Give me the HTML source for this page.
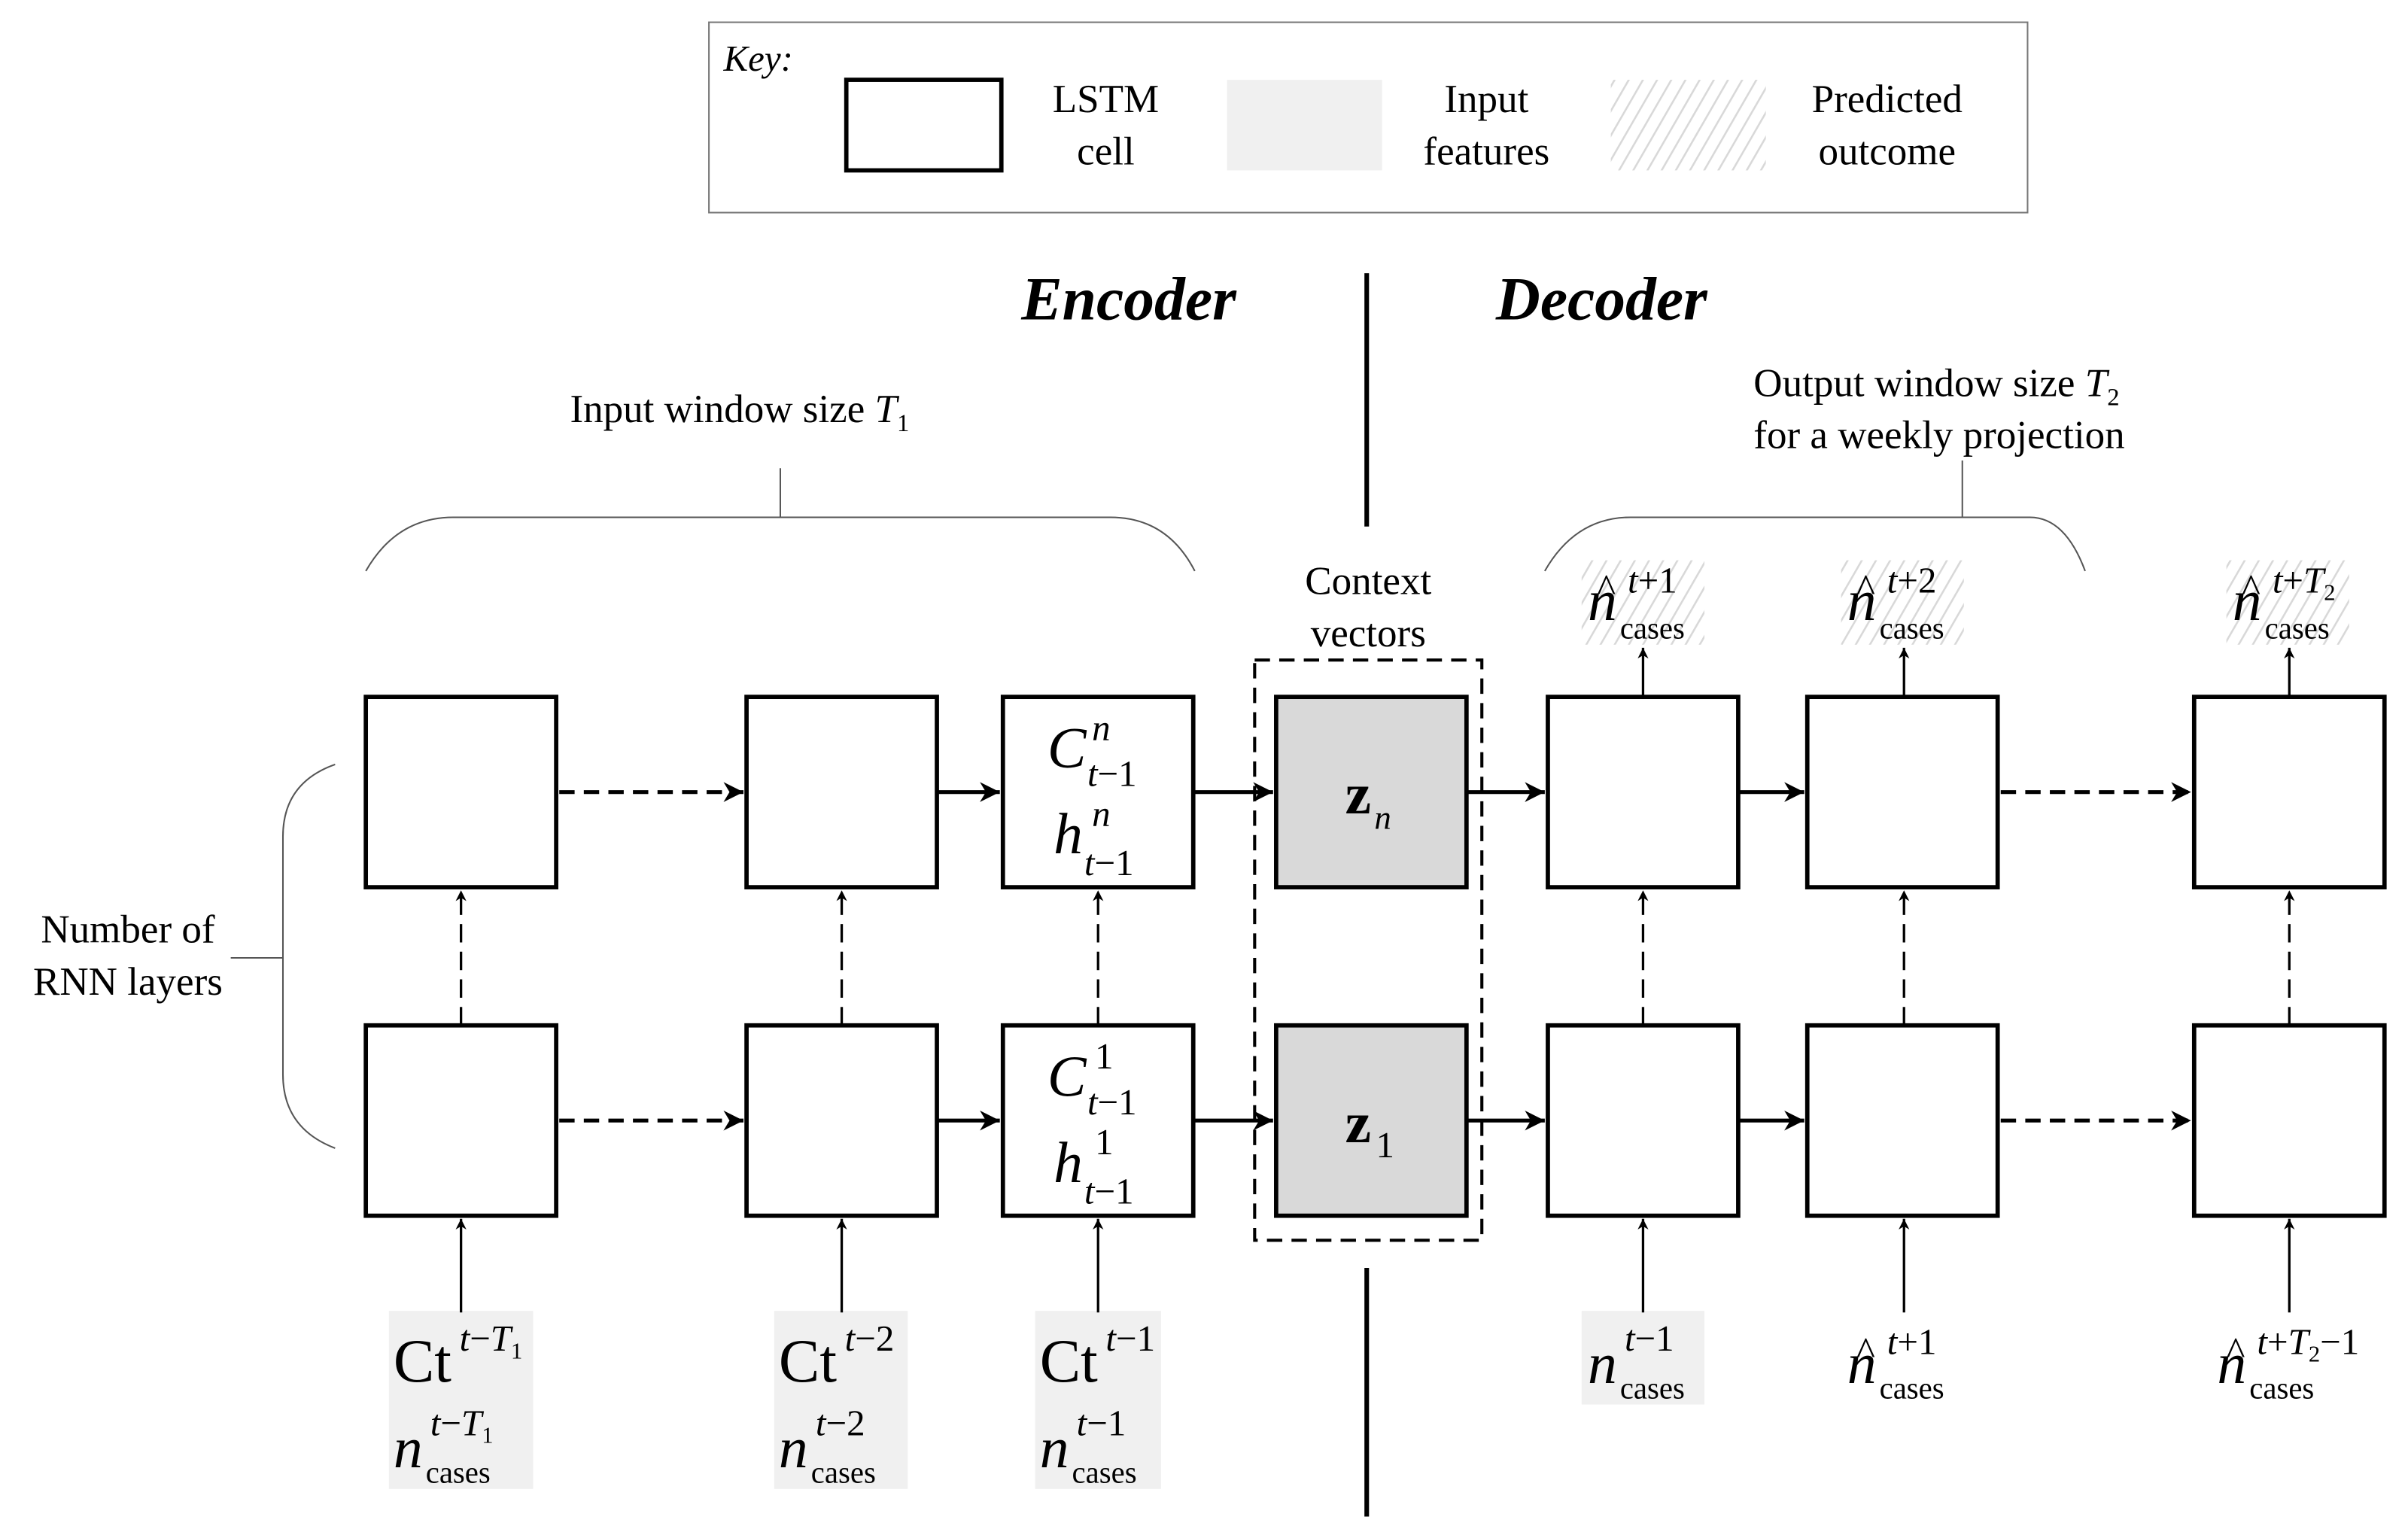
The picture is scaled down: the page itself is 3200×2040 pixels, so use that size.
<!DOCTYPE html>
<html><head><meta charset="utf-8"><style>html,body{margin:0;padding:0;background:#fff}svg{display:block}</style></head>
<body>
<svg width="3200" height="2040" viewBox="0 0 1568 1000" xmlns="http://www.w3.org/2000/svg" font-family="Liberation Serif, serif">
<defs>
<pattern id="h" patternUnits="userSpaceOnUse" width="8" height="8" patternTransform="rotate(30)">
<rect width="8" height="8" fill="#fff"/><line x1="0" y1="0" x2="0" y2="8" stroke="#d8d8d8" stroke-width="2.5"/></pattern>
<marker id="a" viewBox="0 0 10 10" refX="10" refY="5" markerWidth="9" markerHeight="7" orient="auto" markerUnits="userSpaceOnUse"><path d="M0,0 L10,5 L0,10 L3,5z" fill="#000"/></marker>
<marker id="b" viewBox="0 0 10 10" refX="10" refY="5" markerWidth="13" markerHeight="13" orient="auto" markerUnits="userSpaceOnUse"><path d="M0,0 L10,5 L0,10 L3,5z" fill="#000"/></marker>
</defs>
<rect x="461.5" y="14.5" width="859" height="124" fill="#fff" stroke="#777" stroke-width="1"/>
<text x="471" y="46" font-size="24" font-style="italic">Key:</text>
<rect x="551" y="52" width="101" height="59" fill="#fff" stroke="#000" stroke-width="2.8"/>
<text x="720" y="73" font-size="26" text-anchor="middle">LSTM</text>
<text x="720" y="107" font-size="26" text-anchor="middle">cell</text>
<rect x="799" y="52" width="101" height="59" fill="#f0f0f0"/>
<text x="968" y="73" font-size="26" text-anchor="middle">Input</text>
<text x="968" y="107" font-size="26" text-anchor="middle">features</text>
<rect x="1049" y="52" width="101" height="59" fill="url(#h)"/>
<text x="1229" y="73" font-size="26" text-anchor="middle">Predicted</text>
<text x="1229" y="107" font-size="26" text-anchor="middle">outcome</text>
<text x="735" y="208" font-size="40" font-weight="bold" font-style="italic" text-anchor="middle">Encoder</text>
<text x="1043" y="208" font-size="40" font-weight="bold" font-style="italic" text-anchor="middle">Decoder</text>
<line x1="890" y1="178" x2="890" y2="343" stroke="#000" stroke-width="3"/>
<line x1="890" y1="826" x2="890" y2="988" stroke="#000" stroke-width="3"/>
<text x="371" y="275" font-size="26">Input window size <tspan font-style="italic">T</tspan><tspan font-size="16" dy="6">1</tspan></text>
<line x1="508" y1="305" x2="508" y2="337" stroke="#555" stroke-width="1"/>
<path d="M238,372 Q258,337 295,337 L723,337 Q760,337 778,372" fill="none" stroke="#555" stroke-width="1"/>
<text x="1142" y="258" font-size="26">Output window size <tspan font-style="italic">T</tspan><tspan font-size="16" dy="6">2</tspan></text>
<text x="1142" y="292" font-size="26">for a weekly projection</text>
<line x1="1278" y1="300" x2="1278" y2="337" stroke="#555" stroke-width="1"/>
<path d="M1006,372 Q1026,337 1062,337 L1322,337 Q1345,337 1358,372" fill="none" stroke="#555" stroke-width="1"/>
<text x="83" y="614" font-size="26" text-anchor="middle">Number of</text>
<text x="83" y="648" font-size="26" text-anchor="middle">RNN layers</text>
<line x1="150" y1="624" x2="184" y2="624" stroke="#555" stroke-width="1"/>
<path d="M218,498 Q184,510 184,545 L184,700 Q184,735 218,748" fill="none" stroke="#555" stroke-width="1"/>
<text x="891" y="387" font-size="26" text-anchor="middle">Context</text>
<text x="891" y="421" font-size="26" text-anchor="middle">vectors</text>
<rect x="1030" y="365" width="80" height="55" fill="url(#h)"/>
<rect x="1199" y="365" width="80" height="55" fill="url(#h)"/>
<rect x="1450" y="365" width="80" height="55" fill="url(#h)"/>
<rect x="253" y="854" width="94" height="116" fill="#f0f0f0"/>
<rect x="504" y="854" width="87" height="116" fill="#f0f0f0"/>
<rect x="674" y="854" width="82" height="116" fill="#f0f0f0"/>
<rect x="1030" y="854" width="80" height="61" fill="#f0f0f0"/>
<rect x="817" y="430" width="148" height="378" fill="none" stroke="#000" stroke-width="2" stroke-dasharray="10,6"/>
<g stroke="#000" stroke-width="2.8" fill="#fff">
<rect x="238" y="454" width="124" height="124"/><rect x="486" y="454" width="124" height="124"/><rect x="653" y="454" width="124" height="124"/>
<rect x="831" y="454" width="124" height="124" fill="#d9d9d9"/><rect x="1008" y="454" width="124" height="124"/><rect x="1177" y="454" width="124" height="124"/><rect x="1429" y="454" width="124" height="124"/>
<rect x="238" y="668" width="124" height="124"/><rect x="486" y="668" width="124" height="124"/><rect x="653" y="668" width="124" height="124"/>
<rect x="831" y="668" width="124" height="124" fill="#d9d9d9"/><rect x="1008" y="668" width="124" height="124"/><rect x="1177" y="668" width="124" height="124"/><rect x="1429" y="668" width="124" height="124"/>
</g>
<g stroke="#000" stroke-width="2.5" fill="none" marker-end="url(#b)">
<path d="M364,516H484" stroke-dasharray="10,6"/><path d="M610,516H651"/><path d="M777,516H829"/><path d="M955,516H1006"/><path d="M1132,516H1175"/><path d="M1303,516H1427" stroke-dasharray="10,6"/>
<path d="M364,730H484" stroke-dasharray="10,6"/><path d="M610,730H651"/><path d="M777,730H829"/><path d="M955,730H1006"/><path d="M1132,730H1175"/><path d="M1303,730H1427" stroke-dasharray="10,6"/>
</g>
<g stroke="#000" stroke-width="1.6" fill="none" marker-end="url(#a)">
<path d="M300,668V580" stroke-dasharray="12,6"/><path d="M548,668V580" stroke-dasharray="12,6"/><path d="M715,668V580" stroke-dasharray="12,6"/>
<path d="M1070,668V580" stroke-dasharray="12,6"/><path d="M1240,668V580" stroke-dasharray="12,6"/><path d="M1491,668V580" stroke-dasharray="12,6"/>
<path d="M300,855V794"/><path d="M548,855V794"/><path d="M715,855V794"/><path d="M1070,855V794"/><path d="M1240,855V794"/><path d="M1491,855V794"/>
<path d="M1070,454V422"/><path d="M1240,454V422"/><path d="M1491,454V422"/>
</g>
<g font-size="38" font-style="italic">
<text x="682" y="500">C</text><text x="711" y="482" font-size="24">n</text><text x="708" y="512" font-size="24">t<tspan font-style="normal">−1</tspan></text>
<text x="686" y="556">h</text><text x="711" y="538" font-size="24">n</text><text x="706" y="570" font-size="24">t<tspan font-style="normal">−1</tspan></text>
<text x="682" y="714">C</text><text x="713" y="696" font-size="24" font-style="normal">1</text><text x="708" y="726" font-size="24">t<tspan font-style="normal">−1</tspan></text>
<text x="686" y="770">h</text><text x="713" y="752" font-size="24" font-style="normal">1</text><text x="706" y="784" font-size="24">t<tspan font-style="normal">−1</tspan></text>
</g>
<text x="876" y="530" font-size="38" font-weight="bold">z</text><text x="895" y="540" font-size="22" font-style="italic">n</text>
<text x="876" y="744" font-size="38" font-weight="bold">z</text><text x="896" y="754" font-size="24">1</text>
<g font-size="38" font-style="italic">
<text x="1034" y="404">n</text><text x="1040" y="392" font-size="26" font-style="normal">^</text><text x="1060" y="386" font-size="24">t<tspan font-style="normal">+1</tspan></text><text x="1055" y="416" font-size="20" font-style="normal">cases</text>
<text x="1203" y="404">n</text><text x="1209" y="392" font-size="26" font-style="normal">^</text><text x="1229" y="386" font-size="24">t<tspan font-style="normal">+2</tspan></text><text x="1224" y="416" font-size="20" font-style="normal">cases</text>
<text x="1454" y="404">n</text><text x="1460" y="392" font-size="26" font-style="normal">^</text><text x="1480" y="386" font-size="24">t<tspan font-style="normal">+</tspan>T<tspan font-size="15" dy="5" font-style="normal">2</tspan></text><text x="1475" y="416" font-size="20" font-style="normal">cases</text>
</g>
<g font-size="40">
<text x="256" y="900">Ct</text><text x="299" y="880" font-size="24" font-style="italic">t<tspan font-style="normal">−</tspan>T<tspan font-size="15" dy="5" font-style="normal">1</tspan></text>
<text x="507" y="900">Ct</text><text x="550" y="880" font-size="24" font-style="italic">t<tspan font-style="normal">−2</tspan></text>
<text x="677" y="900">Ct</text><text x="720" y="880" font-size="24" font-style="italic">t<tspan font-style="normal">−1</tspan></text>
</g>
<g font-size="38" font-style="italic">
<text x="256" y="956">n</text><text x="280" y="935" font-size="24">t<tspan font-style="normal">−</tspan>T<tspan font-size="15" dy="5" font-style="normal">1</tspan></text><text x="277" y="966" font-size="20" font-style="normal">cases</text>
<text x="507" y="956">n</text><text x="531" y="935" font-size="24">t<tspan font-style="normal">−2</tspan></text><text x="528" y="966" font-size="20" font-style="normal">cases</text>
<text x="677" y="956">n</text><text x="701" y="935" font-size="24">t<tspan font-style="normal">−1</tspan></text><text x="698" y="966" font-size="20" font-style="normal">cases</text>
<text x="1034" y="901">n</text><text x="1058" y="880" font-size="24">t<tspan font-style="normal">−1</tspan></text><text x="1055" y="911" font-size="20" font-style="normal">cases</text>
<text x="1203" y="901">n</text><text x="1209" y="889" font-size="26" font-style="normal">^</text><text x="1229" y="882" font-size="24">t<tspan font-style="normal">+1</tspan></text><text x="1224" y="911" font-size="20" font-style="normal">cases</text>
<text x="1444" y="901">n</text><text x="1450" y="889" font-size="26" font-style="normal">^</text><text x="1470" y="882" font-size="24">t<tspan font-style="normal">+</tspan>T<tspan font-size="15" dy="5" font-style="normal">2</tspan><tspan dy="-5" font-style="normal">−1</tspan></text><text x="1465" y="911" font-size="20" font-style="normal">cases</text>
</g>
</svg>
</body></html>
